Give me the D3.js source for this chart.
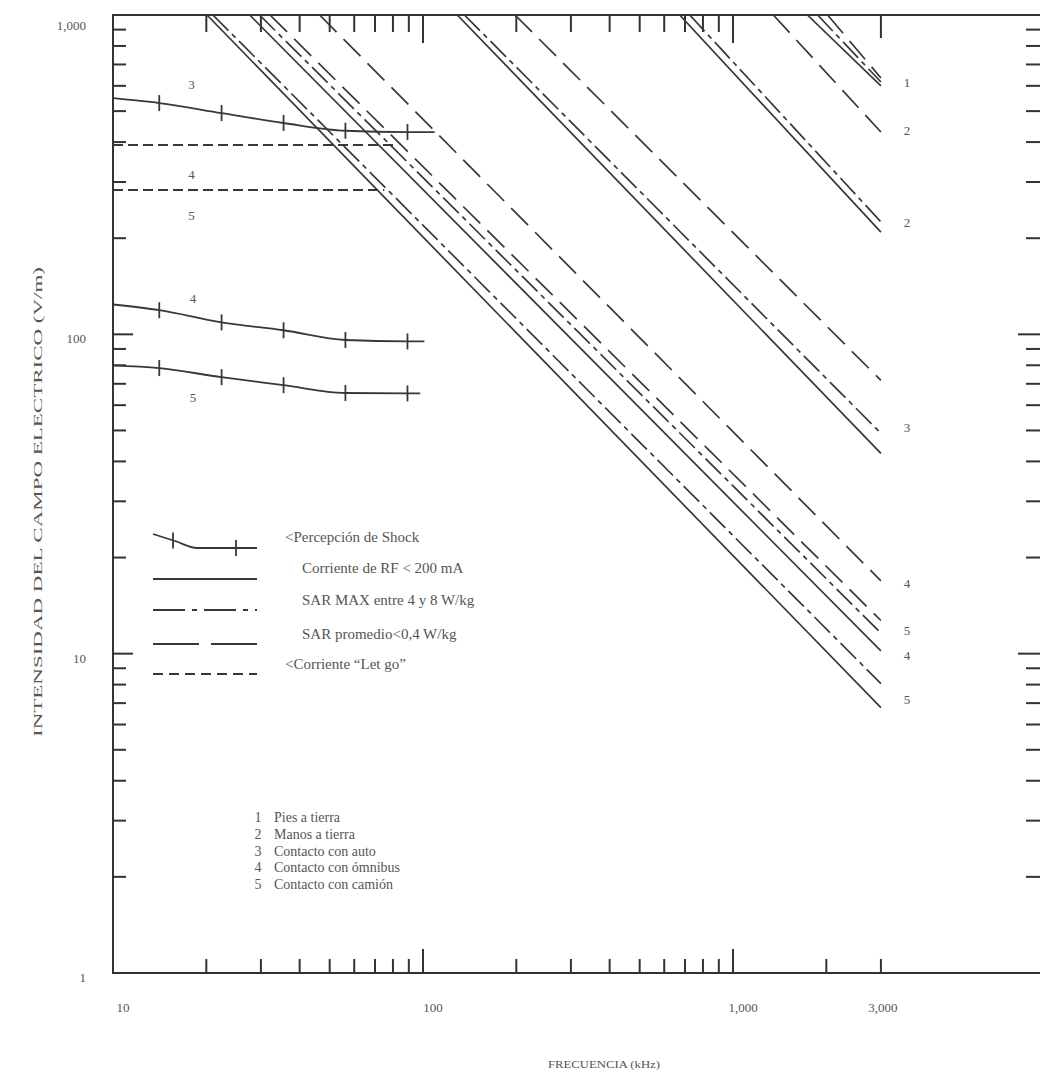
<!DOCTYPE html>
<html>
<head>
<meta charset="utf-8">
<script src="https://cdn.jsdelivr.net/npm/d3@7"></script>
<style>
body { margin: 0; background: #fff; }
text { font-family: 'Liberation Serif', 'DejaVu Serif', serif; fill: #555; }
</style>
</head>
<body>
<script>
// ---- data ----

// diagonal limit lines: each leaves the 1000 V/m border at diagStartF and ends at 3000 kHz
var diagKind   = ['rf', 'sarMax', 'sarAvg', 'rf', 'sarMax', 'sarAvg', 'rf', 'sarMax', 'sarAvg',
                  'rf', 'sarMax', 'sarAvg', 'rf', 'sarMax', 'sarAvg'];
var diagStartF = [1738, 1875, 2019, 673, 725, 1349, 129, 136, 198, 27.6, 29.7, 46.4, 20.1, 21, 32.1]; // kHz
var diagEndE   = [600, 617, 635, 209, 225, 430, 42.4, 49, 71.8, 10.2, 11.6, 16.9, 6.78, 8.06, 12.7]; // V/m at 3000 kHz
var diagEndF   = 3000;

// shock perception curves (contact 3, 4, 5)
var shockF     = [10, 14.1, 22.4, 35.5, 56.2, 89.1];
var shockEndF  = [109, 101, 98];
var shock3     = [549, 530, 493, 459, 434, 430, 430];
var shock4     = [124, 119, 109, 103, 96, 95, 95];
var shock5     = [80, 78.4, 73.4, 69.3, 65.5, 65.3, 65.3];
var shockTickF = [14.1, 22.4, 35.5, 56.2, 89.1];

// "let go" current lines
var letGoE    = [392, 283];
var letGoEndF = [82, 75];

// curve number labels
var leftLabels  = ['3', '4', '5', '4', '5'];
var leftLabelF  = [17.9, 17.9, 17.9, 18.1, 18.1];
var leftLabelE  = [608, 318, 237, 130, 63.7];
var rightLabels = ['1', '2', '2', '3', '4', '5', '4', '5'];
var rightLabelE = [617, 436, 225, 51.1, 16.7, 11.9, 9.9, 7.2];

// axis labels
var xTickLabels = [10, 100, 1000, 3000];
var xTickText   = ['10', '100', '1,000', '3,000'];
var yTickLabels = [1, 10, 100, 1000];
var yTickText   = ['1', '10', '100', '1,000'];

// legends
var legendText = ['<Percepción de Shock', 'Corriente de RF < 200 mA', 'SAR MAX entre 4 y 8 W/kg',
                  'SAR promedio<0,4 W/kg', '<Corriente \u201cLet go\u201d'];
var legendKind = ['shock', 'rf', 'sarMax', 'sarAvg', 'letGo'];
var contactNum  = ['1', '2', '3', '4', '5'];
var contactText = ['Pies a tierra', 'Manos a tierra', 'Contacto con auto', 'Contacto con ómnibus', 'Contacto con camión'];

// ---- layout ----
var width = 1040, height = 1082;
var plotLeft = 113, plotRight = 1043, plotTop = 15, plotBottom = 973;
var lineColor = '#383838';
var lineW = 1.7;
var dashes = { rf: null, sarMax: '22,5,5,5', sarAvg: '24,10', letGo: '10,5' };
var legendDashes = { rf: null, sarMax: '32,7,5,7', sarAvg: '46,12', letGo: '10,6' };

var x = d3.scaleLog().domain([10, 10000]).range([plotLeft, plotRight]);
var y = d3.scaleLog().domain([1, 1000]).range([plotBottom, plotTop]);

var svg = d3.select('body')
  .append('svg')
    .attr('width', width)
    .attr('height', height);

svg.append('rect')
  .attr('width', width).attr('height', height)
  .attr('fill', '#fff');

// frame
svg.append('rect')
  .attr('x', plotLeft)
  .attr('y', plotTop)
  .attr('width', plotRight - plotLeft)
  .attr('height', plotBottom - plotTop)
  .attr('fill', 'none')
  .attr('stroke', '#333')
  .attr('stroke-width', 2);

// ticks, all pointing inwards
var isMajor = function(v) { return Math.abs(Math.log10(v) - Math.round(Math.log10(v))) < 1e-6; };
var xTicks = x.ticks().filter(function(v) { return v > 10 && v <= 3000; });

svg.selectAll('.xBottomTick')
  .data(xTicks)
  .enter()
  .append('line')
    .attr('class', 'xBottomTick')
    .attr('x1', function(d) { return x(d); })
    .attr('x2', function(d) { return x(d); })
    .attr('y1', plotBottom)
    .attr('y2', function(d) { return plotBottom - (isMajor(d) ? 24 : 14); })
    .attr('stroke', '#333')
    .attr('stroke-width', 2);

svg.selectAll('.xTopTick')
  .data(xTicks.filter(function(v) { return v !== 2000; }))
  .enter()
  .append('line')
    .attr('class', 'xTopTick')
    .attr('x1', function(d) { return x(d); })
    .attr('x2', function(d) { return x(d); })
    .attr('y1', plotTop)
    .attr('y2', function(d) { return plotTop + (isMajor(d) ? 28 : (d === 3000 ? 23 : 17)); })
    .attr('stroke', '#333')
    .attr('stroke-width', 2);

var yTicks = y.ticks().filter(function(v) { return v > 1 && v < 1000; });

svg.selectAll('.yLeftTick')
  .data(yTicks)
  .enter()
  .append('line')
    .attr('class', 'yLeftTick')
    .attr('x1', plotLeft)
    .attr('x2', function(d) { return plotLeft + (isMajor(d) ? 20 : 13); })
    .attr('y1', function(d) { return y(d); })
    .attr('y2', function(d) { return y(d); })
    .attr('stroke', '#333')
    .attr('stroke-width', 2);

svg.selectAll('.yRightTick')
  .data(yTicks)
  .enter()
  .append('line')
    .attr('class', 'yRightTick')
    .attr('x1', plotRight)
    .attr('x2', function(d) { return plotRight - (isMajor(d) ? 25 : 17); })
    .attr('y1', function(d) { return y(d); })
    .attr('y2', function(d) { return y(d); })
    .attr('stroke', '#333')
    .attr('stroke-width', 2);

// tick labels
svg.selectAll('.xLabel')
  .data(xTickLabels)
  .enter()
  .append('text')
    .attr('class', 'xLabel')
    .attr('x', function(d) { return x(d) + (d === 3000 ? 2 : 10); })
    .attr('y', plotBottom + 39)
    .attr('text-anchor', 'middle')
    .style('font-size', '13px')
    .text(function(d, i) { return xTickText[i]; });

svg.selectAll('.yLabel')
  .data(yTickLabels)
  .enter()
  .append('text')
    .attr('class', 'yLabel')
    .attr('x', 86)
    .attr('y', function(d) { return Math.max(y(d) + 9, plotTop + 15); })
    .attr('text-anchor', 'end')
    .style('font-size', '13px')
    .text(function(d, i) { return yTickText[i]; });

// axis titles
svg.append('text')
  .attr('transform', 'translate(42,502) rotate(-90)')
  .attr('text-anchor', 'middle')
  .attr('textLength', 470)
  .attr('lengthAdjust', 'spacingAndGlyphs')
  .style('font-size', '12.5px')
  .text('INTENSIDAD DEL CAMPO ELECTRICO (V/m)');

svg.append('text')
  .attr('x', 604)
  .attr('y', 1068)
  .attr('text-anchor', 'middle')
  .attr('textLength', 112)
  .attr('lengthAdjust', 'spacingAndGlyphs')
  .style('font-size', '11px')
  .text('FRECUENCIA (kHz)');

// clip everything to the frame
svg.append('clipPath').attr('id', 'plotClip')
  .append('rect')
    .attr('x', plotLeft).attr('y', plotTop)
    .attr('width', plotRight - plotLeft).attr('height', plotBottom - plotTop);
var plot = svg.append('g').attr('clip-path', 'url(#plotClip)');

// diagonal limit lines
plot.selectAll('.diag')
  .data(diagEndE)
  .enter()
  .append('line')
    .attr('class', 'diag')
    .attr('x1', function(d, i) { return x(diagStartF[i]); })
    .attr('y1', y(1000))
    .attr('x2', x(diagEndF))
    .attr('y2', function(d) { return y(d); })
    .attr('stroke', lineColor)
    .attr('stroke-width', lineW)
    .attr('stroke-dasharray', function(d, i) { return dashes[diagKind[i]]; });

// let go lines
plot.selectAll('.letGo')
  .data(letGoE)
  .enter()
  .append('line')
    .attr('class', 'letGo')
    .attr('x1', x(10))
    .attr('x2', function(d, i) { return x(letGoEndF[i]); })
    .attr('y1', function(d) { return y(d); })
    .attr('y2', function(d) { return y(d); })
    .attr('stroke', lineColor)
    .attr('stroke-width', 2)
    .attr('stroke-dasharray', dashes.letGo);

// shock perception curves
var shockLine = d3.line()
  .x(function(d) { return x(d[0]); })
  .y(function(d) { return y(d[1]); })
  .curve(d3.curveMonotoneX);

[shock3, shock4, shock5].forEach(function(series, k) {
  var freqs = shockF.concat([shockEndF[k]]);
  var pts = freqs.map(function(f, i) { return [f, series[i]]; });
  plot.append('path')
    .attr('d', shockLine(pts))
    .attr('fill', 'none')
    .attr('stroke', lineColor)
    .attr('stroke-width', 1.8);
  plot.selectAll('.shockTick' + k)
    .data(shockTickF)
    .enter()
    .append('line')
      .attr('x1', function(d) { return x(d); })
      .attr('x2', function(d) { return x(d); })
      .attr('y1', function(d) { return y(series[shockF.indexOf(d)]) - 8; })
      .attr('y2', function(d) { return y(series[shockF.indexOf(d)]) + 8; })
      .attr('stroke', lineColor)
      .attr('stroke-width', 1.8);
});

// curve numbers
svg.selectAll('.leftNum')
  .data(leftLabels)
  .enter()
  .append('text')
    .attr('x', function(d, i) { return x(leftLabelF[i]); })
    .attr('y', function(d, i) { return y(leftLabelE[i]) + 5; })
    .attr('text-anchor', 'middle')
    .style('font-size', '13px')
    .text(function(d) { return d; });

svg.selectAll('.rightNum')
  .data(rightLabels)
  .enter()
  .append('text')
    .attr('x', x(diagEndF) + 26)
    .attr('y', function(d, i) { return y(rightLabelE[i]) + 5; })
    .attr('text-anchor', 'middle')
    .style('font-size', '13px')
    .text(function(d) { return d; });

// style legend
var legX1 = 153, legX2 = 257;
var legRowY = [548, 579, 610, 644, 674];
var legTextY = [542, 573, 605, 639, 669];
legendKind.forEach(function(kind, i) {
  if (kind === 'shock') {
    var sym = d3.line().curve(d3.curveMonotoneX)(
      [[legX1, legRowY[i] - 14], [175, legRowY[i] - 7], [197, legRowY[i]], [legX2, legRowY[i]]]);
    svg.append('path').attr('d', sym)
      .attr('fill', 'none').attr('stroke', lineColor).attr('stroke-width', 1.8);
    [173, 236].forEach(function(tx) {
      var ty = tx < 197 ? legRowY[i] - 7.5 : legRowY[i];
      svg.append('line')
        .attr('x1', tx).attr('x2', tx).attr('y1', ty - 8).attr('y2', ty + 8)
        .attr('stroke', lineColor).attr('stroke-width', 1.8);
    });
  } else {
    svg.append('line')
      .attr('x1', legX1).attr('x2', legX2)
      .attr('y1', legRowY[i]).attr('y2', legRowY[i])
      .attr('stroke', lineColor)
      .attr('stroke-width', 2)
      .attr('stroke-dasharray', legendDashes[kind]);
  }
  svg.append('text')
    .attr('x', (kind === 'shock' || kind === 'letGo') ? 285 : 302)
    .attr('y', legTextY[i])
    .style('font-size', '15px')
    .text(legendText[i]);
});

// contact legend
contactNum.forEach(function(n, i) {
  svg.append('text')
    .attr('x', 258).attr('y', 822 + i * 16.8)
    .attr('text-anchor', 'middle')
    .style('font-size', '14px')
    .text(n);
  svg.append('text')
    .attr('x', 274).attr('y', 822 + i * 16.8)
    .style('font-size', '14px')
    .text(contactText[i]);
});
</script>
</body>
</html>
